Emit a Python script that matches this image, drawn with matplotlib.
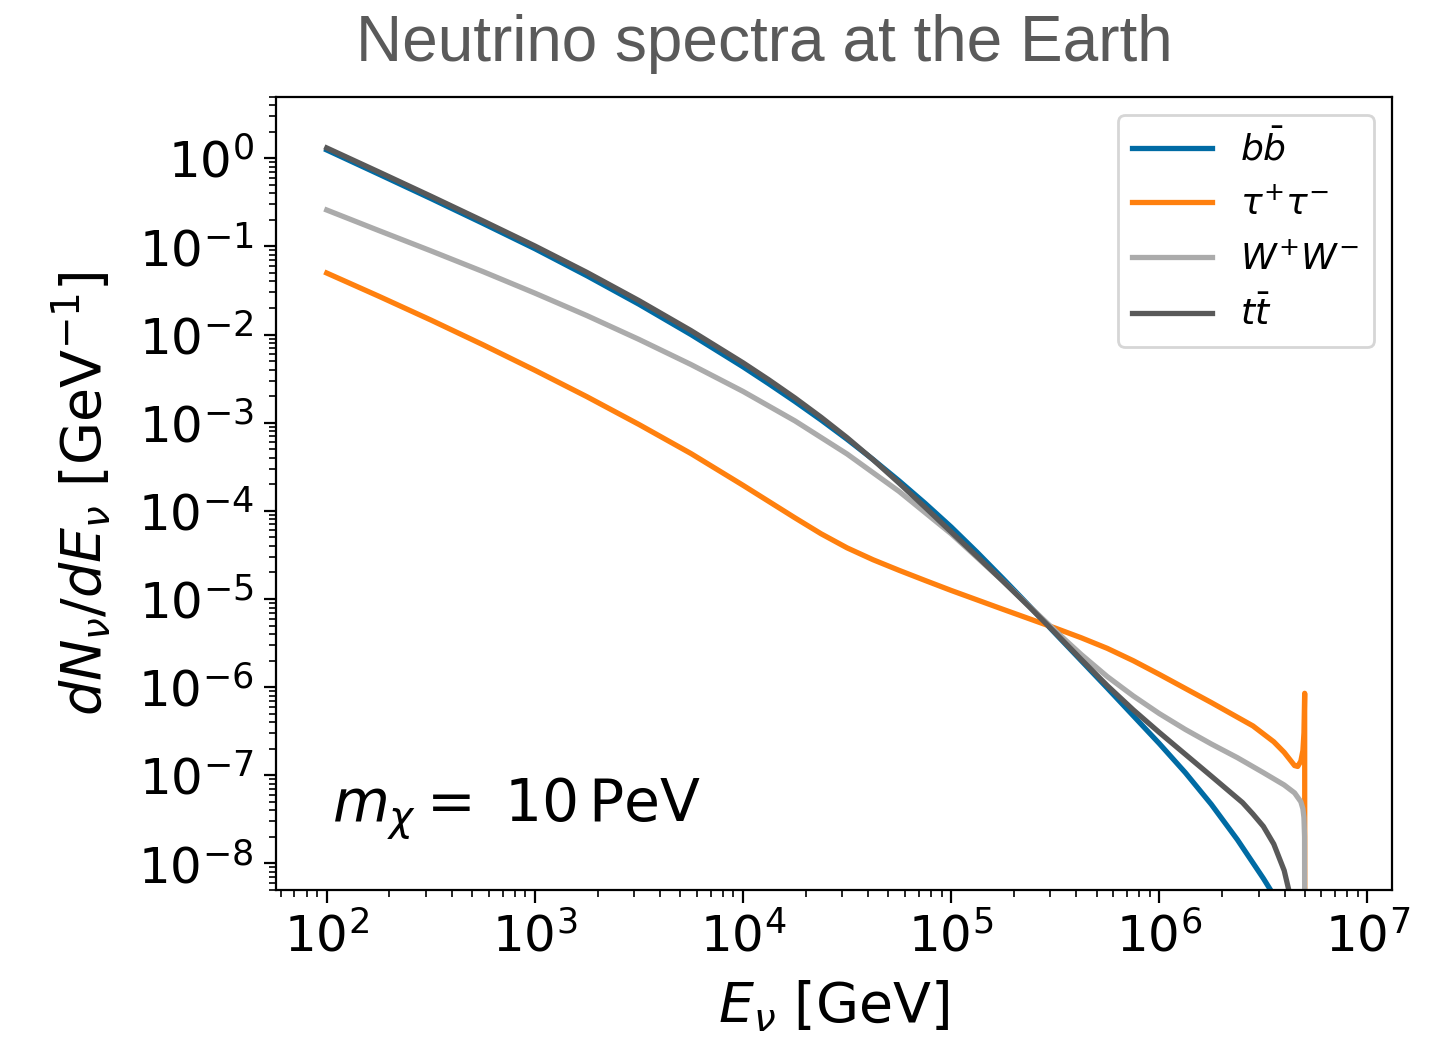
import numpy as np
import matplotlib
matplotlib.use("Agg")
import matplotlib.pyplot as plt
from matplotlib.ticker import LogLocator, NullFormatter

plt.style.use('tableau-colorblind10')

# values, stored as log10(E/GeV) and log10(dN/dE)
logE_bb = [2.0, 2.25, 2.5, 2.75, 3.0, 3.25, 3.5, 3.75, 4.0, 4.125, 4.25, 4.375, 4.5, 4.625,
           4.75, 4.875, 5.0, 5.125, 5.25, 5.375, 5.5, 5.75, 6.0, 6.125, 6.25, 6.375, 6.5, 6.6]
logN_bb = [0.094, -0.18, -0.456, -0.738, -1.026, -1.333, -1.656, -2.0, -2.366, -2.56, -2.76, -2.969,
           -3.188, -3.418, -3.66, -3.915, -4.183, -4.471, -4.771, -5.077, -5.39, -6.01, -6.64,
           -6.97, -7.33, -7.73, -8.17, -8.55]

logE_tau = [2.0, 2.25, 2.5, 2.75, 3.0, 3.25, 3.5, 3.75, 4.0, 4.125, 4.25, 4.375, 4.5, 4.625,
            4.75, 4.875, 5.0, 5.25, 5.5, 5.625, 5.75, 5.875, 6.0, 6.25, 6.45, 6.55, 6.6, 6.63,
            6.65, 6.665, 6.68, 6.69, 6.695, 6.6985, 6.699]
logN_tau = [-1.302, -1.565, -1.835, -2.115, -2.405, -2.705, -3.02, -3.35, -3.71, -3.895, -4.08,
            -4.26, -4.42, -4.555, -4.675, -4.79, -4.903, -5.118, -5.33, -5.44, -5.56, -5.70,
            -5.855, -6.175, -6.44, -6.62, -6.74, -6.83, -6.89, -6.9, -6.84, -6.72, -6.52, -6.07,
            -9.5]

logE_WW = [2.0, 2.25, 2.5, 2.75, 3.0, 3.25, 3.5, 3.75, 4.0, 4.25, 4.5, 4.75, 5.0, 5.25, 5.5,
           5.625, 5.75, 5.875, 6.0, 6.125, 6.25, 6.375, 6.5, 6.6, 6.65, 6.68, 6.69, 6.695,
           6.698, 6.699]
logN_WW = [-0.587, -0.82, -1.05, -1.285, -1.53, -1.785, -2.055, -2.34, -2.645, -2.98, -3.355,
           -3.78, -4.26, -4.8, -5.36, -5.63, -5.88, -6.10, -6.30, -6.48, -6.645, -6.80, -6.97,
           -7.11, -7.2, -7.3, -7.38, -7.48, -7.7, -9.5]

logE_tt = [2.0, 2.25, 2.5, 2.75, 3.0, 3.25, 3.5, 3.75, 4.0, 4.125, 4.25, 4.375, 4.5, 4.625,
           4.75, 4.875, 5.0, 5.125, 5.25, 5.375, 5.5, 5.625, 5.75, 5.875, 6.0, 6.25, 6.4,
           6.45, 6.5, 6.55, 6.6, 6.625, 6.65]
logN_tt = [0.117, -0.155, -0.43, -0.71, -0.995, -1.295, -1.615, -1.955, -2.32, -2.515, -2.72,
           -2.938, -3.17, -3.42, -3.685, -3.96, -4.24, -4.518, -4.8, -5.088, -5.383, -5.686,
           -5.983, -6.258, -6.514, -7.01, -7.31, -7.44, -7.58, -7.78, -8.08, -8.33, -8.7]

labels = [r'$b\bar{b}$', r'$\tau^{+}\tau^{-}$', r'$W^{+}W^{-}$', r'$t\bar{t}$']

fig = plt.figure(figsize=(7.145, 5.185), dpi=200)
ax = fig.add_axes([0.1931, 0.1418, 0.781, 0.765])

series = [(logE_bb, logN_bb), (logE_tau, logN_tau), (logE_WW, logN_WW), (logE_tt, logN_tt)]
for (le, ln), lab in zip(series, labels):
    ax.plot(10**np.array(le), 10**np.array(ln), lw=1.9, label=lab)

ax.set_xscale('log')
ax.set_yscale('log')
ax.set_xlim(10**1.756, 10**7.118)
ax.set_ylim(5e-9, 5)

ax.yaxis.set_major_locator(LogLocator(base=10, numticks=20))
ax.yaxis.set_minor_locator(LogLocator(base=10, subs=np.arange(2, 10), numticks=20))
ax.yaxis.set_minor_formatter(NullFormatter())
ax.xaxis.set_minor_formatter(NullFormatter())

ax.tick_params(which='major', labelsize=18, length=4.5)
ax.tick_params(which='minor', length=2.4)

ax.set_xlabel(r'$E_\nu$ [GeV]', fontsize=20, labelpad=6)
ax.set_ylabel(r'$dN_\nu/dE_\nu$ [GeV$^{-1}$]', fontsize=20, labelpad=9)

ax.text(0.05, 0.085, r'$m_\chi =$ $10\,\mathrm{PeV}$', transform=ax.transAxes,
        fontsize=21, va='baseline')

ax.legend(loc='upper right', fontsize=13, handlelength=2.2, labelspacing=0.55)

fig.text(0.535, 1 - 44/1037, 'Neutrino spectra at the Earth', ha='center', va='center',
         fontsize=23, color='#5a5a5a', family='Liberation Sans')

fig.savefig('out.png', dpi=200)
